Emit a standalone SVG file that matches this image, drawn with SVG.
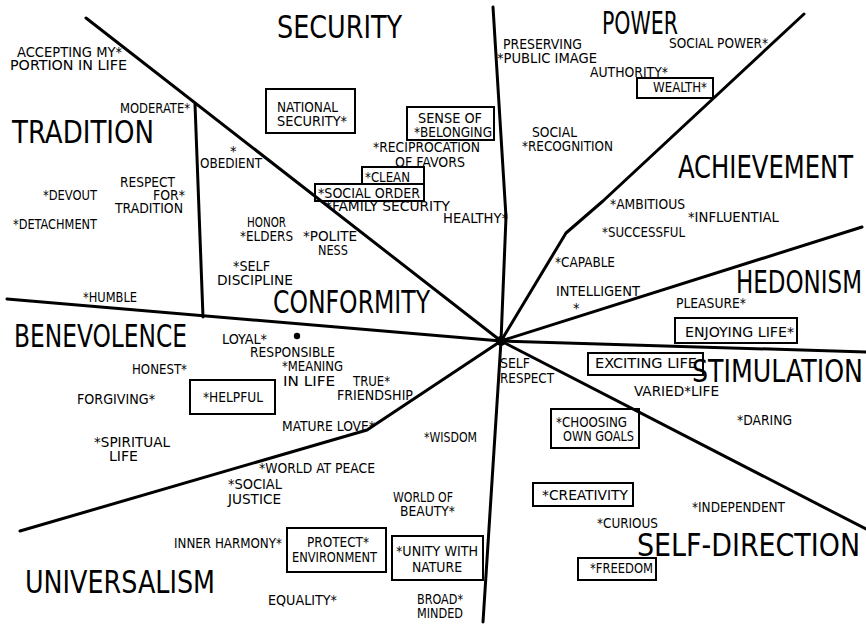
<svg xmlns="http://www.w3.org/2000/svg" width="866" height="625" viewBox="0 0 866 625">
<style>
text{font-family:"DejaVu Sans Condensed","Liberation Sans Narrow","Liberation Sans",sans-serif;fill:#000}
.s{font-size:14.5px}
.L{font-size:32px}
.ln{fill:none;stroke:#000;stroke-width:3;stroke-linecap:round;stroke-linejoin:round}
.bx{fill:none;stroke:#000;stroke-width:2}
</style>
<rect width="866" height="625" fill="#fff"/>
<g id="connectors">
<path class="ln" d="M86,18 L501,341"/>
<path class="ln" d="M195,104 L203,317"/>
<path class="ln" d="M493,7 L506,217 L501,341"/>
<path class="ln" d="M804,14 L603,201 L566,233 L501,341"/>
<path class="ln" d="M862,227 L501,341"/>
<path class="ln" d="M501,341 L866,352"/>
<path class="ln" d="M501,341 L866,529"/>
<path class="ln" d="M501,341 L483,622"/>
<path class="ln" d="M20,531 L367,430 L501,341"/>
<path class="ln" d="M7,299 L501,341"/>
<circle cx="501" cy="341" r="5" fill="#000"/>
</g>
<g id="regions">
<text id="security" class="L" x="277" y="38" textLength="125" lengthAdjust="spacingAndGlyphs">SECURITY</text>
<text id="power" class="L" x="602" y="34" textLength="76" lengthAdjust="spacingAndGlyphs">POWER</text>
<text id="tradition" class="L" x="12" y="143" textLength="142" lengthAdjust="spacingAndGlyphs">TRADITION</text>
<text id="achievement" class="L" x="678" y="178" textLength="175" lengthAdjust="spacingAndGlyphs">ACHIEVEMENT</text>
<text id="hedonism" class="L" x="736" y="293" textLength="126" lengthAdjust="spacingAndGlyphs">HEDONISM</text>
<text id="benevolence" class="L" x="14" y="347" textLength="173" lengthAdjust="spacingAndGlyphs">BENEVOLENCE</text>
<text id="conformity" class="L" x="273" y="313" textLength="157" lengthAdjust="spacingAndGlyphs">CONFORMITY</text>
<text id="stimulation" class="L" x="692" y="382" textLength="171" lengthAdjust="spacingAndGlyphs">STIMULATION</text>
<text id="selfdirection" class="L" x="637" y="556" textLength="223" lengthAdjust="spacingAndGlyphs">SELF-DIRECTION</text>
<text id="universalism" class="L" x="25" y="593" textLength="190" lengthAdjust="spacingAndGlyphs">UNIVERSALISM</text>
</g>
<g id="v-accepting"><text class="s" x="17" y="57" textLength="105" lengthAdjust="spacingAndGlyphs">ACCEPTING MY*</text><text class="s" x="10" y="70" textLength="117" lengthAdjust="spacingAndGlyphs">PORTION IN LIFE</text></g>
<g id="v-moderate"><text class="s" x="120" y="113" textLength="70" lengthAdjust="spacingAndGlyphs">MODERATE*</text></g>
<g id="v-obedient"><text class="s" x="230" y="156">*</text><text class="s" x="200" y="168" textLength="62" lengthAdjust="spacingAndGlyphs">OBEDIENT</text></g>
<g id="v-respect-tradition"><text class="s" x="120" y="187" textLength="55" lengthAdjust="spacingAndGlyphs">RESPECT</text><text class="s" x="153" y="200" textLength="32" lengthAdjust="spacingAndGlyphs">FOR*</text><text class="s" x="115" y="213" textLength="68" lengthAdjust="spacingAndGlyphs">TRADITION</text></g>
<g id="v-devout"><text class="s" x="43" y="200" textLength="54" lengthAdjust="spacingAndGlyphs">*DEVOUT</text></g>
<g id="v-detachment"><text class="s" x="13" y="229" textLength="84" lengthAdjust="spacingAndGlyphs">*DETACHMENT</text></g>
<g id="v-humble"><text class="s" x="83" y="302" textLength="54" lengthAdjust="spacingAndGlyphs">*HUMBLE</text></g>
<g id="v-honest"><text class="s" x="132" y="374" textLength="55" lengthAdjust="spacingAndGlyphs">HONEST*</text></g>
<g id="v-forgiving"><text class="s" x="77" y="404" textLength="78" lengthAdjust="spacingAndGlyphs">FORGIVING*</text></g>
<g id="v-helpful"><rect class="bx" x="190" y="380" width="85" height="34"/><text class="s" x="203" y="402" textLength="60" lengthAdjust="spacingAndGlyphs">*HELPFUL</text></g>
<g id="v-national-security"><rect class="bx" x="266" y="89" width="89" height="44"/><text class="s" x="277" y="112" textLength="61" lengthAdjust="spacingAndGlyphs">NATIONAL</text><text class="s" x="277" y="126" textLength="70" lengthAdjust="spacingAndGlyphs">SECURITY*</text></g>
<g id="v-belonging"><rect class="bx" x="407" y="107" width="87" height="33"/><text class="s" x="418" y="123" textLength="64" lengthAdjust="spacingAndGlyphs">SENSE OF</text><text class="s" x="414" y="137" textLength="78" lengthAdjust="spacingAndGlyphs">*BELONGING</text></g>
<g id="v-reciprocation"><text class="s" x="373" y="152" textLength="107" lengthAdjust="spacingAndGlyphs">*RECIPROCATION</text><text class="s" x="395" y="167" textLength="70" lengthAdjust="spacingAndGlyphs">OF FAVORS</text></g>
<g id="v-clean"><rect class="bx" x="362" y="167" width="62" height="17"/><text class="s" x="365" y="182" textLength="45" lengthAdjust="spacingAndGlyphs">*CLEAN</text></g>
<g id="v-social-order"><rect class="bx" x="315" y="184" width="109" height="17"/><text class="s" x="318" y="198" textLength="102" lengthAdjust="spacingAndGlyphs">*SOCIAL ORDER</text></g>
<g id="v-family-security"><text class="s" x="325" y="211" textLength="125" lengthAdjust="spacingAndGlyphs">*FAMILY SECURITY</text></g>
<g id="v-healthy"><text class="s" x="443" y="223" textLength="65" lengthAdjust="spacingAndGlyphs">HEALTHY*</text></g>
<g id="v-public-image"><text class="s" x="503" y="49" textLength="79" lengthAdjust="spacingAndGlyphs">PRESERVING</text><text class="s" x="497" y="63" textLength="100" lengthAdjust="spacingAndGlyphs">*PUBLIC IMAGE</text></g>
<g id="v-authority"><text class="s" x="590" y="77" textLength="78" lengthAdjust="spacingAndGlyphs">AUTHORITY*</text></g>
<g id="v-wealth"><rect class="bx" x="637" y="78" width="76" height="20"/><text class="s" x="653" y="92" textLength="54" lengthAdjust="spacingAndGlyphs">WEALTH*</text></g>
<g id="v-social-recognition"><text class="s" x="532" y="137" textLength="45" lengthAdjust="spacingAndGlyphs">SOCIAL</text><text class="s" x="522" y="151" textLength="91" lengthAdjust="spacingAndGlyphs">*RECOGNITION</text></g>
<g id="v-social-power"><text class="s" x="669" y="48" textLength="99" lengthAdjust="spacingAndGlyphs">SOCIAL POWER*</text></g>
<g id="v-ambitious"><text class="s" x="610" y="209" textLength="75" lengthAdjust="spacingAndGlyphs">*AMBITIOUS</text></g>
<g id="v-influential"><text class="s" x="688" y="222" textLength="91" lengthAdjust="spacingAndGlyphs">*INFLUENTIAL</text></g>
<g id="v-successful"><text class="s" x="602" y="237" textLength="83" lengthAdjust="spacingAndGlyphs">*SUCCESSFUL</text></g>
<g id="v-capable"><text class="s" x="555" y="267" textLength="60" lengthAdjust="spacingAndGlyphs">*CAPABLE</text></g>
<g id="v-intelligent"><text class="s" x="556" y="296" textLength="84" lengthAdjust="spacingAndGlyphs">INTELLIGENT</text><text class="s" x="573" y="313">*</text></g>
<g id="v-self-respect"><text class="s" x="500" y="368" textLength="30" lengthAdjust="spacingAndGlyphs">SELF</text><text class="s" x="500" y="383" textLength="54" lengthAdjust="spacingAndGlyphs">RESPECT</text></g>
<g id="v-exciting-life"><rect class="bx" x="588" y="353" width="115" height="22"/><text class="s" x="595" y="368" textLength="102" lengthAdjust="spacingAndGlyphs">EXCITING LIFE</text></g>
<g id="v-pleasure"><text class="s" x="676" y="308" textLength="70" lengthAdjust="spacingAndGlyphs">PLEASURE*</text></g>
<g id="v-enjoying-life"><rect class="bx" x="675" y="318" width="122" height="25"/><text class="s" x="685" y="337" textLength="109" lengthAdjust="spacingAndGlyphs">ENJOYING LIFE*</text></g>
<g id="v-varied-life"><text class="s" x="634" y="396" textLength="85" lengthAdjust="spacingAndGlyphs">VARIED*LIFE</text></g>
<g id="v-daring"><text class="s" x="737" y="425" textLength="55" lengthAdjust="spacingAndGlyphs">*DARING</text></g>
<g id="v-choosing-goals"><rect class="bx" x="551" y="409" width="88" height="39"/><text class="s" x="556" y="427" textLength="71" lengthAdjust="spacingAndGlyphs">*CHOOSING</text><text class="s" x="563" y="441" textLength="71" lengthAdjust="spacingAndGlyphs">OWN GOALS</text></g>
<g id="v-wisdom"><text class="s" x="424" y="442" textLength="53" lengthAdjust="spacingAndGlyphs">*WISDOM</text></g>
<g id="v-world-beauty"><text class="s" x="393" y="502" textLength="60" lengthAdjust="spacingAndGlyphs">WORLD OF</text><text class="s" x="400" y="516" textLength="55" lengthAdjust="spacingAndGlyphs">BEAUTY*</text></g>
<g id="v-creativity"><rect class="bx" x="533" y="483" width="100" height="23"/><text class="s" x="542" y="500" textLength="86" lengthAdjust="spacingAndGlyphs">*CREATIVITY</text></g>
<g id="v-curious"><text class="s" x="597" y="528" textLength="61" lengthAdjust="spacingAndGlyphs">*CURIOUS</text></g>
<g id="v-independent"><text class="s" x="692" y="512" textLength="93" lengthAdjust="spacingAndGlyphs">*INDEPENDENT</text></g>
<g id="v-freedom"><rect class="bx" x="578" y="558" width="78" height="22"/><text class="s" x="590" y="573" textLength="63" lengthAdjust="spacingAndGlyphs">*FREEDOM</text></g>
<g id="v-unity-nature"><rect class="bx" x="392" y="536" width="91" height="44"/><text class="s" x="396" y="556" textLength="82" lengthAdjust="spacingAndGlyphs">*UNITY WITH</text><text class="s" x="412" y="572" textLength="50" lengthAdjust="spacingAndGlyphs">NATURE</text></g>
<g id="v-mature-love"><text class="s" x="282" y="431" textLength="93" lengthAdjust="spacingAndGlyphs">MATURE LOVE*</text></g>
<g id="v-world-peace"><text class="s" x="259" y="473" textLength="116" lengthAdjust="spacingAndGlyphs">*WORLD AT PEACE</text></g>
<g id="v-social-justice"><text class="s" x="228" y="489" textLength="54" lengthAdjust="spacingAndGlyphs">*SOCIAL</text><text class="s" x="228" y="504" textLength="53" lengthAdjust="spacingAndGlyphs">JUSTICE</text></g>
<g id="v-inner-harmony"><text class="s" x="174" y="548" textLength="108" lengthAdjust="spacingAndGlyphs">INNER HARMONY*</text></g>
<g id="v-protect-environment"><rect class="bx" x="287" y="528" width="99" height="44"/><text class="s" x="307" y="547" textLength="62" lengthAdjust="spacingAndGlyphs">PROTECT*</text><text class="s" x="292" y="562" textLength="85" lengthAdjust="spacingAndGlyphs">ENVIRONMENT</text></g>
<g id="v-equality"><text class="s" x="268" y="605" textLength="69" lengthAdjust="spacingAndGlyphs">EQUALITY*</text></g>
<g id="v-broad-minded"><text class="s" x="417" y="604" textLength="46" lengthAdjust="spacingAndGlyphs">BROAD*</text><text class="s" x="417" y="618" textLength="46" lengthAdjust="spacingAndGlyphs">MINDED</text></g>
<g id="v-spiritual-life"><text class="s" x="94" y="447" textLength="76" lengthAdjust="spacingAndGlyphs">*SPIRITUAL</text><text class="s" x="109" y="461" textLength="29" lengthAdjust="spacingAndGlyphs">LIFE</text></g>
<g id="v-honor-elders"><text class="s" x="247" y="227" textLength="39" lengthAdjust="spacingAndGlyphs">HONOR</text><text class="s" x="240" y="241" textLength="53" lengthAdjust="spacingAndGlyphs">*ELDERS</text></g>
<g id="v-politeness"><text class="s" x="303" y="241" textLength="54" lengthAdjust="spacingAndGlyphs">*POLITE</text><text class="s" x="318" y="255" textLength="30" lengthAdjust="spacingAndGlyphs">NESS</text></g>
<g id="v-self-discipline"><text class="s" x="233" y="271" textLength="37" lengthAdjust="spacingAndGlyphs">*SELF</text><text class="s" x="217" y="285" textLength="76" lengthAdjust="spacingAndGlyphs">DISCIPLINE</text></g>
<g id="v-loyal"><text class="s" x="222" y="344" textLength="45" lengthAdjust="spacingAndGlyphs">LOYAL*</text></g>
<g id="v-responsible"><circle cx="297" cy="336" r="3.2" fill="#000"/><text class="s" x="250" y="357" textLength="85" lengthAdjust="spacingAndGlyphs">RESPONSIBLE</text></g>
<g id="v-meaning"><text class="s" x="282" y="371" textLength="61" lengthAdjust="spacingAndGlyphs">*MEANING</text><text class="s" x="283" y="386" textLength="52" lengthAdjust="spacingAndGlyphs">IN LIFE</text></g>
<g id="v-friendship"><text class="s" x="353" y="386" textLength="37" lengthAdjust="spacingAndGlyphs">TRUE*</text><text class="s" x="337" y="400" textLength="76" lengthAdjust="spacingAndGlyphs">FRIENDSHIP</text></g>
</svg>
